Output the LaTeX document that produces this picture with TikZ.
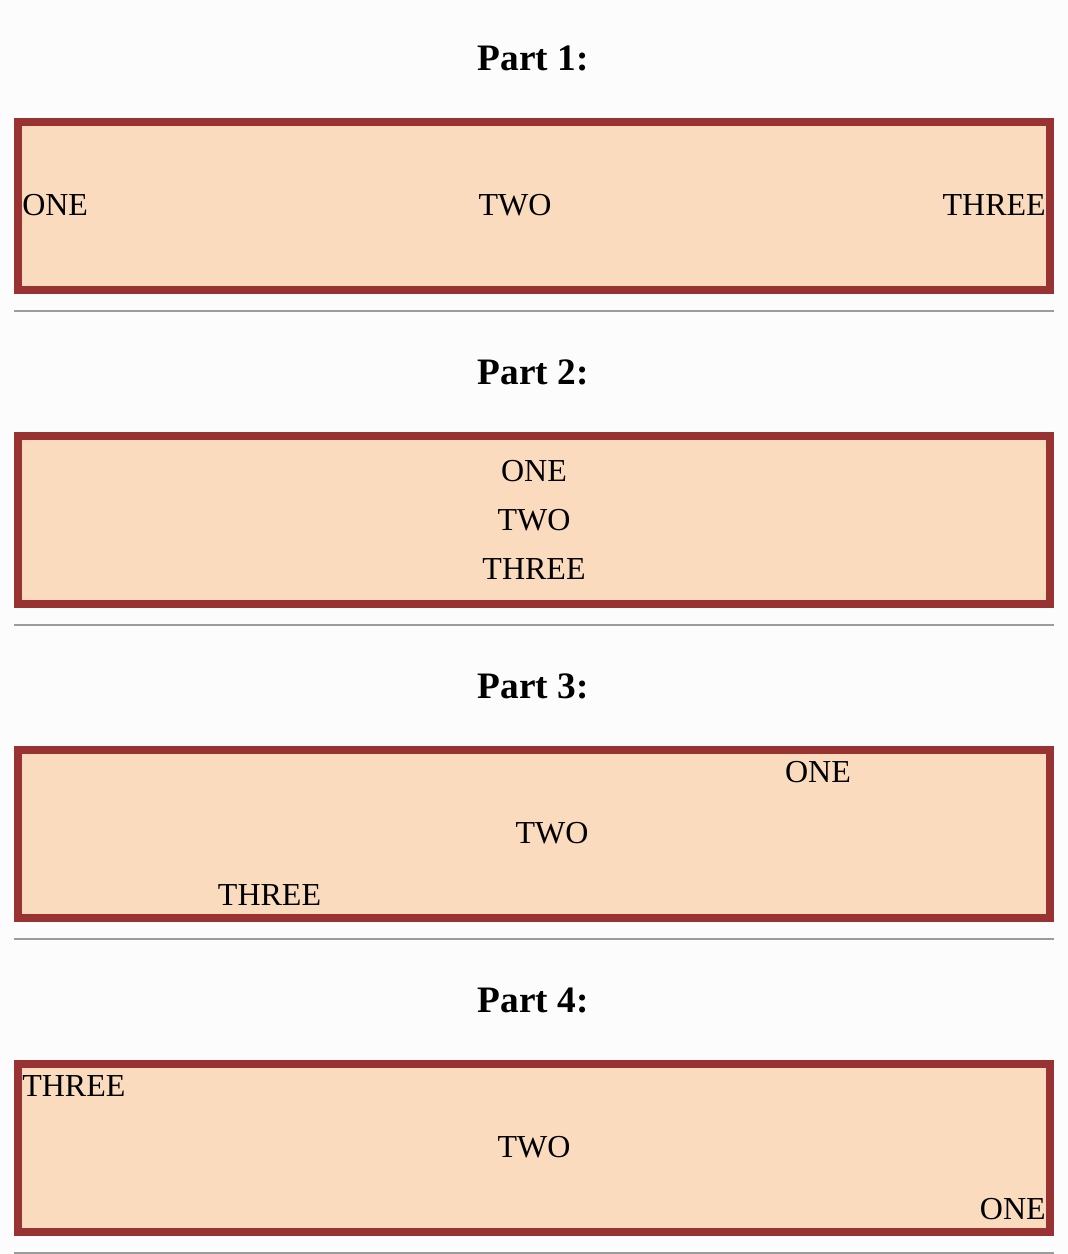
\documentclass[tikz,border=0pt]{standalone}
\usepackage{fontspec}
\setmainfont{Liberation Serif}
\usetikzlibrary{positioning}
\definecolor{BoxBorder}{HTML}{993333}
\definecolor{BoxFill}{HTML}{FADBBE}
\definecolor{PageBack}{HTML}{FCFCFC}
\definecolor{RuleGray}{HTML}{9B9B9B}

\begin{document}
\begin{tikzpicture}[x=0.75pt, y=-0.75pt,
  title/.style={font=\fontsize{28}{30}\selectfont\bfseries, inner sep=0pt},
  word/.style={font=\fontsize{24}{26}\selectfont, inner sep=0pt},
  box/.style={draw=BoxBorder, fill=BoxFill, line width=6pt},
  sep/.style={draw=RuleGray, line width=1.5pt}]
  \fill[PageBack] (0,0) rectangle (1068,1254);
  \useasboundingbox (0,0) rectangle (1068,1254);

  \foreach \i in {1,...,4} {
    \pgfmathsetmacro{\dy}{314*(\i-1)}
    \node[title] (part\i) at (533, 58+\dy) {Part \i:};
    \draw[box] (18, 122+\dy) rectangle (1050, 290+\dy);
    \draw[sep] (14, 311+\dy) -- (1054, 311+\dy);
  }

  \node[word, anchor=west] (p1one) at (22, 205) {ONE};
  \node[word] (p1two) at (515, 205) {TWO};
  \node[word, anchor=east] (p1three) at (1046, 205) {THREE};

  \node[word] (p2one) at (534, 471) {ONE};
  \node[word] (p2two) at (534, 520) {TWO};
  \node[word] (p2three) at (534, 569.5) {THREE};

  \node[word] (p3one) at (818, 772.5) {ONE};
  \node[word] (p3two) at (552, 833.5) {TWO};
  \node[word] (p3three) at (269.5, 895.5) {THREE};

  \node[word, anchor=west] (p4three) at (22, 1086) {THREE};
  \node[word] (p4two) at (534, 1147) {TWO};
  \node[word, anchor=east] (p4one) at (1046, 1209) {ONE};
\end{tikzpicture}
\end{document}
